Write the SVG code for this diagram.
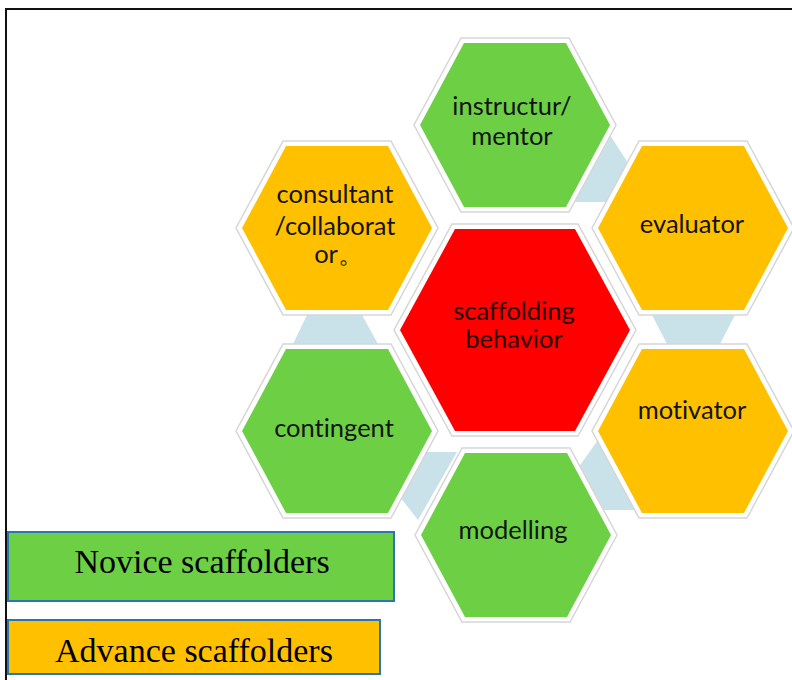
<svg xmlns="http://www.w3.org/2000/svg" width="792" height="680" viewBox="0 0 792 680">
<style>
.bord{fill:#FFFFFF;stroke:#D6D6D6;stroke-width:1.5}
.g{fill:#6CCF44}
.o{fill:#FFC000}
.r{fill:#FF0000}
.con{fill:#C9E1E9}
.lbl{font-family:Lato,"Liberation Sans",sans-serif;font-size:25.5px;fill:#141414;text-anchor:middle;font-variant-ligatures:none;font-feature-settings:"liga" 0}
.leg{font-family:"Liberation Serif","Times New Roman",serif;font-size:34px;fill:#000;text-anchor:middle}
.legbox{stroke:#2A77B0;stroke-width:2}
</style>
<rect width="792" height="680" fill="#FFFFFF"/>
<path d="M6,680 V9 H792" fill="none" stroke="#111" stroke-width="2"/>

<g id="connectors">
<polygon class="con" points="610,135 628,163 606,202 571,202"/>
<polygon class="con" points="652,315 735,315 720,344 667,344"/>
<polygon class="con" points="598,440 638,510 602,510 578,468"/>
<polygon class="con" points="426,452 457,452 418,520 400,497"/>
<polygon class="con" points="307,315 362,315 378,344 293,344"/>
</g>

<g id="instructur">
<polygon class="bord" points="461,38 569,38 616,125 569,212 461,212 414,125"/>
<polygon class="g" points="464,43 566,43 610,125 566,207 464,207 420,125"/>
<text class="lbl" x="512" y="115">instructur/</text>
<text class="lbl" x="512" y="145">mentor</text>
</g>

<g id="consultant">
<polygon class="bord" points="283,141 391,141 438,228 391,315 283,315 236,228"/>
<polygon class="o" points="286,146 388,146 432,228 388,310 286,310 242,228"/>
<text class="lbl" x="335" y="203">consultant</text>
<text class="lbl" x="335" y="235">/collaborat</text>
<text class="lbl" x="339" y="263">or。</text>
</g>

<g id="evaluator">
<polygon class="bord" points="639,141 747,141 794,228 747,315 639,315 592,228"/>
<polygon class="o" points="642,146 744,146 788,228 744,310 642,310 598,228"/>
<text class="lbl" x="692" y="233">evaluator</text>
</g>

<g id="center">
<polygon class="bord" points="452,224 578,224 636,330 578,436 452,436 394,330"/>
<polygon class="r" points="455,229 575,229 630,330 575,431 455,431 400,330"/>
<text class="lbl" x="514" y="320" style="fill:#2a0000">scaffolding</text>
<text class="lbl" x="514" y="348" style="fill:#2a0000">behavior</text>
</g>

<g id="motivator">
<polygon class="bord" points="639,344 747,344 794,431 747,518 639,518 592,431"/>
<polygon class="o" points="642,349 744,349 788,431 744,513 642,513 598,431"/>
<text class="lbl" x="692" y="419">motivator</text>
</g>

<g id="contingent">
<polygon class="bord" points="283,344 391,344 438,431 391,518 283,518 236,431"/>
<polygon class="g" points="286,349 388,349 432,431 388,513 286,513 242,431"/>
<text class="lbl" x="334" y="437">contingent</text>
</g>

<g id="modelling">
<polygon class="bord" points="462,448 570,448 617,535 570,622 462,622 415,535"/>
<polygon class="g" points="465,453 567,453 611,535 567,617 465,617 421,535"/>
<text class="lbl" x="513" y="539">modelling</text>
</g>

<g id="legend-novice">
<rect class="legbox" x="8" y="532" width="386" height="69" fill="#6CCF44"/>
<text class="leg" x="202" y="573">Novice scaffolders</text>
</g>
<g id="legend-advance">
<rect class="legbox" x="8" y="620" width="372" height="54" fill="#FFC000"/>
<text class="leg" x="194" y="662">Advance scaffolders</text>
</g>
</svg>
